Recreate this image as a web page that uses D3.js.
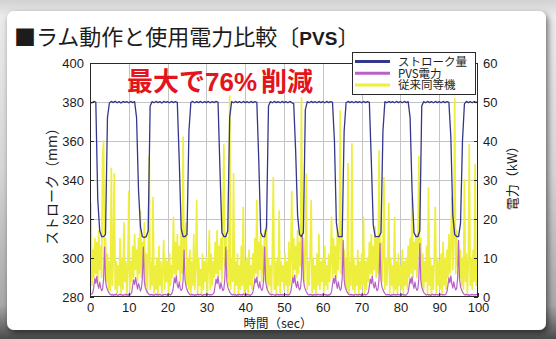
<!DOCTYPE html>
<html>
<head>
<meta charset="utf-8">
<script src="https://cdn.jsdelivr.net/npm/d3@7"></script>
<style>
  html, body { margin: 0; padding: 0; overflow: hidden; background: #d8d8d8; }
  svg { display: block; }
</style>
</head>
<body>
<svg id="chart" width="556" height="339"></svg>
<script>
// ---- data ---------------------------------------------------------------
const timeTicks   = [0, 10, 20, 30, 40, 50, 60, 70, 80, 90, 100];
const strokeTicks = [280, 300, 320, 340, 360, 380, 400];
const powerTicks  = [0, 10, 20, 30, 40, 50, 60];
const seriesNames = ["ストローク量", "PVS電力", "従来同等機"];

// stroke sampled every 0.5 s (mm)
const strokeStep = 0.5;
const strokeMM = [
  380, 379.6, 380.3, 379.8, 330, 314, 311, 311, 312, 372,
  379.5, 380.3, 379.7, 380.4, 379.6, 380.2, 379.5, 380.3, 379.8, 380.2,
  379.6, 380.3, 379.7, 380.2, 372, 335, 316, 311, 310.5, 311,
  314, 378, 380.2, 379.6, 380.3, 379.7, 380.2, 379.5, 380.3, 379.8,
  380.2, 379.6, 380.3, 379.7, 380.2, 379.8, 350, 315, 311, 311,
  312, 365, 379.8, 380.3, 379.6, 380.2, 379.7, 380.3, 379.6, 380.2,
  379.7, 380.3, 379.6, 380.2, 379.7, 380.3, 379.8, 345, 313, 311,
  311, 314, 372, 380.2, 379.6, 380.3, 379.7, 380.2, 379.6, 380.3,
  379.7, 380.2, 379.6, 380.3, 379.7, 380.2, 379.8, 350, 313, 311,
  311, 316, 378, 380.2, 379.6, 380.3, 379.7, 380.2, 379.6, 380.3,
  379.7, 380.2, 379.6, 380.3, 379.7, 379.2, 355, 322, 312, 311,
  313, 376, 380.2, 379.6, 380.3, 379.7, 380.2, 379.6, 380.3, 379.7,
  380.2, 379.6, 380.3, 379.7, 380.2, 379.8, 360, 318, 311, 311,
  311, 365, 379.6, 380.3, 379.7, 380.2, 379.6, 380.3, 379.7, 380.2,
  379.6, 380.3, 379.7, 380.2, 379.8, 350, 317, 311, 311, 311,
  313, 365, 380.2, 379.6, 380.3, 379.7, 380.2, 379.6, 380.3, 379.7,
  380.2, 379.6, 380.3, 379.7, 380.2, 372, 335, 313, 311, 311,
  314, 378, 380.2, 379.6, 380.3, 379.7, 380.2, 379.6, 380.3, 379.7,
  380.2, 379.6, 380.3, 379.7, 380.2, 379.8, 362, 322, 312, 311,
  311, 318, 360, 379, 380.3, 379.7, 380.2, 379.6, 380.3, 379.7,
  380.2
];

// power sampled every 0.25 s (kW)
const powerStep = 0.25;
const pvsKW = [
  0.6, 0.7, 0.8, 1.2, 2.8, 4.8, 3.5, 5.3, 3.2, 2.2, 3.8, 2.4, 1.6, 2.0, 4.6, 12.8, 4.2, 2.6, 1.9, 1.3,
  0.9, 0.6, 0.5, 0.7, 0.4, 0.6, 0.5, 0.8, 0.5, 0.4, 0.6, 0.7, 0.5, 0.6, 0.4, 0.5, 0.7, 0.5, 0.6, 0.5,
  0.6, 0.5, 0.8, 1.1, 3.0, 4.4, 3.2, 5.0, 3.4, 2.0, 3.5, 2.6, 1.5, 2.2, 4.8, 12.8, 4.0, 2.4, 1.8, 1.2,
  0.9, 0.6, 0.5, 0.7, 0.5, 0.6, 0.4, 0.6, 0.8, 0.5, 0.6, 0.5, 0.7, 0.5, 0.4, 0.6, 0.5, 0.7, 0.6, 0.5,
  0.6, 0.5, 0.7, 0.5, 0.8, 1.3, 2.6, 4.9, 3.6, 5.4, 3.0, 2.3, 3.9, 2.2, 1.7, 2.1, 4.4, 12.0, 4.3, 2.7,
  1.9, 1.3, 0.9, 0.6, 0.5, 0.7, 0.5, 0.6, 0.4, 0.6, 0.5, 0.8, 0.5, 0.6, 0.7, 0.5, 0.4, 0.6, 0.5, 0.7,
  0.5, 0.6, 0.7, 0.5, 0.6, 0.5, 0.6, 0.8, 1.2, 2.9, 4.6, 3.4, 5.2, 3.3, 2.1, 3.7, 2.5, 1.6, 2.0, 4.7,
  12.8, 4.1, 2.6, 1.9, 1.3, 0.9, 0.6, 0.5, 0.7, 0.5, 0.6, 0.4, 0.6, 0.5, 0.7, 0.5, 0.6, 0.5, 0.8, 0.5,
  0.6, 0.5, 0.7, 0.5, 0.6, 0.4, 0.6, 0.8, 1.3, 2.7, 4.7, 3.6, 5.1, 3.1, 2.3, 3.9, 2.3, 1.7, 2.1, 4.5,
  12.8, 4.2, 2.5, 1.8, 1.2, 0.9, 0.6, 0.5, 0.7, 0.6, 0.5, 0.4, 0.6, 0.7, 0.5, 0.6, 0.5, 0.7, 0.5, 0.6,
  0.5, 0.6, 0.7, 0.5, 0.6, 0.5, 0.8, 1.4, 3.0, 5.0, 3.6, 5.6, 3.3, 2.4, 4.0, 2.6, 1.8, 2.3, 5.0, 15.4,
  4.5, 2.8, 2.0, 1.4, 0.9, 0.6, 0.5, 0.7, 0.5, 0.6, 0.4, 0.7, 0.5, 0.6, 0.5, 0.7, 0.6, 0.5, 0.6, 0.5,
  0.6, 0.5, 0.7, 0.5, 0.6, 0.4, 0.6, 0.5, 0.8, 1.3, 3.1, 4.8, 3.5, 5.5, 3.4, 2.2, 3.9, 2.5, 1.7, 2.2,
  4.9, 14.5, 4.4, 2.7, 1.9, 1.3, 0.9, 0.6, 0.5, 0.7, 0.5, 0.6, 0.4, 0.6, 0.7, 0.5, 0.6, 0.5, 0.7, 0.5,
  0.5, 0.6, 0.5, 0.7, 0.5, 0.6, 0.8, 1.2, 2.9, 4.6, 3.4, 5.3, 3.2, 2.3, 3.8, 2.4, 1.6, 2.1, 4.7, 13.7,
  4.2, 2.6, 1.9, 1.3, 0.9, 0.6, 0.5, 0.7, 0.5, 0.6, 0.4, 0.6, 0.5, 0.7, 0.5, 0.6, 0.5, 0.7, 0.6, 0.5,
  0.6, 0.5, 0.7, 0.5, 0.6, 0.4, 0.6, 0.8, 1.3, 2.8, 4.7, 3.5, 5.2, 3.3, 2.2, 3.8, 2.4, 1.7, 2.1, 4.6,
  13.7, 4.3, 2.6, 1.8, 1.2, 0.9, 0.6, 0.5, 0.7, 0.5, 0.6, 0.4, 0.6, 0.7, 0.5, 0.6, 0.5, 0.7, 0.5, 0.6,
  0.5, 0.6, 0.7, 0.5, 0.6, 0.5, 0.6, 0.8, 1.4, 3.0, 4.9, 3.6, 5.4, 3.4, 2.3, 3.9, 2.6, 1.8, 2.2, 4.8,
  14.5, 4.4, 2.7, 1.9, 1.3, 0.9, 0.6, 0.5, 0.7, 0.5, 0.6, 0.4, 0.6, 0.5, 0.7, 0.5, 0.6, 0.5, 0.7, 0.6,
  0.5
];
const conventionalKW = [
  8, 24, 3, 12, 5, 15, 6, 14, 4, 17, 7, 13, 5, 36, 40, 9, 15, 4, 11, 2,
  9, 1.5, 33, 3, 10, 31.6, 2, 9, 1, 8, 3, 15, 1, 10, 2, 19, 4, 9, 0.5, 7,
  27, 2, 9, 4, 13, 5, 16, 7, 12, 4, 15, 6, 22, 5, 14, 8, 19, 3, 11, 1,
  10, 36, 2, 9, 3, 25.5, 1, 8, 2, 10, 0.5, 13, 3, 9, 1, 7, 14.5, 2, 10, 4,
  9, 1, 11, 3, 8, 5, 20.4, 6, 14, 5, 16, 7, 13, 4, 17, 6, 41, 9, 15, 19,
  3, 10, 2, 12, 1, 9, 3, 16, 2, 8, 24.8, 1, 10, 3, 7, 0.5, 11, 2, 9, 4,
  10, 1, 8, 17, 2, 11, 3, 9, 5, 14, 6, 17, 5, 13, 7, 15, 4, 21, 39, 8,
  16, 5, 12, 3, 51.5, 2, 10, 4, 31.6, 1, 9, 3, 11, 0.5, 8, 2, 13, 3, 23, 1,
  9, 2, 10, 1, 12, 3, 8, 2, 11, 5, 15, 6, 24.8, 5, 14, 7, 16, 4, 13, 6,
  17, 4, 19, 2, 10, 3, 8, 1, 11, 30.6, 2, 9, 0.5, 10, 3, 22, 1, 9, 4, 8,
  2, 11, 3, 9, 1, 14, 3, 10, 27, 5, 15, 7, 13, 5, 17, 6, 14, 8, 51, 10,
  15, 4, 11, 31.6, 2, 9, 3, 12, 24.8, 1, 10, 2, 8, 0.5, 11, 3, 16, 2, 9, 4,
  10, 1, 13, 3, 8, 2, 11, 4, 9, 20.4, 5, 15, 6, 13, 5, 17, 7, 14, 47.7, 6,
  16, 8, 12, 3, 10, 2, 34.2, 1, 9, 3, 39.3, 2, 10, 1, 8, 3, 12, 0.5, 9, 2,
  11, 3, 20.4, 1, 9, 2, 10, 4, 14, 6, 16, 5, 13, 7, 18, 5, 15, 6, 37.5, 9,
  14, 4, 11, 30.6, 2, 10, 3, 9, 24, 1, 10, 3, 8, 1, 20.4, 2, 9, 0.5, 11, 3,
  8, 2, 12, 1, 9, 3, 10, 2, 13, 5, 15, 6, 25.5, 5, 14, 7, 16, 5, 13, 36,
  9, 15, 3, 11, 2, 9, 4, 13, 1, 28, 3, 10, 0.5, 8, 2, 11, 23, 1, 10, 3,
  9, 2, 11, 1, 14, 3, 10, 2, 12, 5, 16, 6, 13, 25.5, 7, 15, 50.8, 6, 17, 8,
  14, 5, 12, 3, 10, 2, 30, 4, 11, 1, 9, 39, 3, 10, 2, 12, 4, 34, 3, 10,
  6
];

// ---- colours ------------------------------------------------------------
const colStroke = "#34378c";
const colPvs    = "#b862c6";
const colConv   = "#eeee3e";
const latin = "'Liberation Sans', Arial, 'Noto Sans CJK JP', sans-serif";
const cjk   = "'Noto Sans CJK JP', 'Liberation Sans', sans-serif";

// ---- layout ---------------------------------------------------------------
const W = 556, H = 339;
const plot = { left: 90, right: 478, top: 63, bottom: 297 };

const svg = d3.select("#chart");
const defs = svg.append("defs");

const bg = defs.append("linearGradient").attr("id", "pageBg")
  .attr("x1", 0).attr("y1", 0).attr("x2", 0).attr("y2", 1);
[[0, "#d2d2d2"], [0.05, "#ebebeb"], [0.5, "#d6d6d6"], [0.9, "#a8a8a8"], [1, "#4a4a4a"]]
  .forEach(([o, c]) => bg.append("stop").attr("offset", o).attr("stop-color", c));

const shadow = defs.append("filter").attr("id", "cardShadow")
  .attr("x", "-5%").attr("y", "-5%").attr("width", "112%").attr("height", "115%");
shadow.append("feDropShadow").attr("dx", 2).attr("dy", 3)
  .attr("stdDeviation", 3).attr("flood-color", "#000").attr("flood-opacity", 0.55);

defs.append("clipPath").attr("id", "plotClip").append("rect")
  .attr("x", plot.left).attr("y", plot.top)
  .attr("width", plot.right - plot.left).attr("height", plot.bottom - plot.top);

svg.append("rect").attr("width", W).attr("height", H).attr("fill", "url(#pageBg)");
svg.append("rect").attr("x", 7).attr("y", 11).attr("width", 539).attr("height", 319)
  .attr("rx", 7).attr("fill", "#fff").attr("filter", "url(#cardShadow)");

// title
const title = svg.append("text").attr("x", 14).attr("y", 45)
  .attr("font-family", cjk).attr("font-size", 22).attr("fill", "#1c1c1c");
title.append("tspan").text("■ラム動作と使用電力比較〔");
title.append("tspan").attr("font-family", latin).attr("font-weight", "bold")
  .attr("font-size", 19).text("PVS");
title.append("tspan").text("〕");

// scales
const x  = d3.scaleLinear().domain([0, 100]).range([plot.left, plot.right]);
const yL = d3.scaleLinear().domain([280, 400]).range([plot.bottom, plot.top]);
const yR = d3.scaleLinear().domain([0, 60]).range([plot.bottom, plot.top]);

// grid
const grid = svg.append("g").attr("stroke", "#c4c4c4").attr("stroke-width", 1);
grid.selectAll("line.v").data(timeTicks.slice(1, -1)).join("line")
  .attr("x1", d => Math.round(x(d)) + 0.5).attr("x2", d => Math.round(x(d)) + 0.5)
  .attr("y1", plot.top).attr("y2", plot.bottom);
grid.selectAll("line.h").data(strokeTicks.slice(1, -1)).join("line")
  .attr("y1", d => Math.round(yL(d)) + 0.5).attr("y2", d => Math.round(yL(d)) + 0.5)
  .attr("x1", plot.left).attr("x2", plot.right);

// series
const marks = svg.append("g").attr("clip-path", "url(#plotClip)");
const powerLine = d3.line().x((d, i) => x(i * powerStep)).y(d => yR(d));
const strokeLine = d3.line().x((d, i) => x(i * strokeStep)).y(d => yL(d));

marks.append("path").datum(conventionalKW).attr("d", powerLine)
  .attr("fill", "none").attr("stroke", colConv).attr("stroke-width", 1.7)
  .attr("stroke-linejoin", "round");
marks.append("path").datum(pvsKW).attr("d", powerLine)
  .attr("fill", "none").attr("stroke", colPvs).attr("stroke-width", 1.2)
  .attr("stroke-linejoin", "round");
marks.append("path").datum(strokeMM).attr("d", strokeLine)
  .attr("fill", "none").attr("stroke", colStroke).attr("stroke-width", 1.3)
  .attr("stroke-linejoin", "round");

// frame
svg.append("rect").attr("x", plot.left + 0.5).attr("y", plot.top + 0.5)
  .attr("width", plot.right - plot.left - 1).attr("height", plot.bottom - plot.top - 1)
  .attr("fill", "none").attr("stroke", "#2a2a2a").attr("stroke-width", 1);

// axes
function styleAxis(g) {
  g.select(".domain").remove();
  g.selectAll(".tick line").attr("stroke", "#2a2a2a");
  g.selectAll(".tick text").attr("font-family", latin).attr("font-size", 13).attr("fill", "#1c1c1c");
}
svg.append("g").attr("transform", `translate(${plot.left},0)`)
  .call(d3.axisLeft(yL).tickValues(strokeTicks).tickSizeInner(-4).tickSizeOuter(0).tickPadding(6))
  .call(styleAxis);
svg.append("g").attr("transform", `translate(${plot.right},0)`)
  .call(d3.axisRight(yR).tickValues(powerTicks).tickSizeInner(-4).tickSizeOuter(0).tickPadding(5))
  .call(styleAxis);
svg.append("g").attr("transform", `translate(0,${plot.bottom})`)
  .call(d3.axisBottom(x).tickValues(timeTicks).tickSizeInner(-4).tickSizeOuter(0).tickPadding(6))
  .call(styleAxis);

// axis titles
svg.append("text").attr("transform", "translate(57,183) rotate(-90)")
  .attr("text-anchor", "middle").attr("font-family", cjk).attr("font-size", 14)
  .attr("fill", "#1c1c1c").text("ストローク（mm）");
svg.append("text").attr("transform", "translate(517,175) rotate(-90)")
  .attr("text-anchor", "middle").attr("font-family", cjk).attr("font-size", 13)
  .attr("fill", "#1c1c1c").text("電力（kW）");
svg.append("text").attr("x", 278).attr("y", 328)
  .attr("text-anchor", "middle").attr("font-family", cjk).attr("font-size", 12.5)
  .attr("fill", "#1c1c1c").text("時間（sec）");

// headline
const head = svg.append("text").attr("x", 127).attr("y", 91)
  .attr("font-family", cjk).attr("font-weight", "bold").attr("font-size", 26).attr("fill", "#e3141b");
head.append("tspan").text("最大で");
head.append("tspan").attr("font-family", latin).text("76%");
head.append("tspan").attr("dx", 4).text("削減");

// legend
const legend = svg.append("g");
legend.append("rect").attr("x", 352.5).attr("y", 52.5).attr("width", 123).attr("height", 42)
  .attr("fill", "#fff").attr("stroke", "#2a2a2a").attr("stroke-width", 1);
const legendColors = [colStroke, colPvs, colConv];
const rows = legend.selectAll("g.row").data(seriesNames).join("g")
  .attr("transform", (d, i) => `translate(0,${61.5 + i * 11.8})`);
rows.append("line").attr("x1", 355).attr("x2", 390).attr("y1", 0).attr("y2", 0)
  .attr("stroke", (d, i) => legendColors[i]).attr("stroke-width", 3);
rows.append("text").attr("x", 398).attr("y", 4.2)
  .attr("font-family", cjk).attr("font-size", 11.5).attr("fill", "#1c1c1c")
  .text(d => d);
</script>
</body>
</html>
